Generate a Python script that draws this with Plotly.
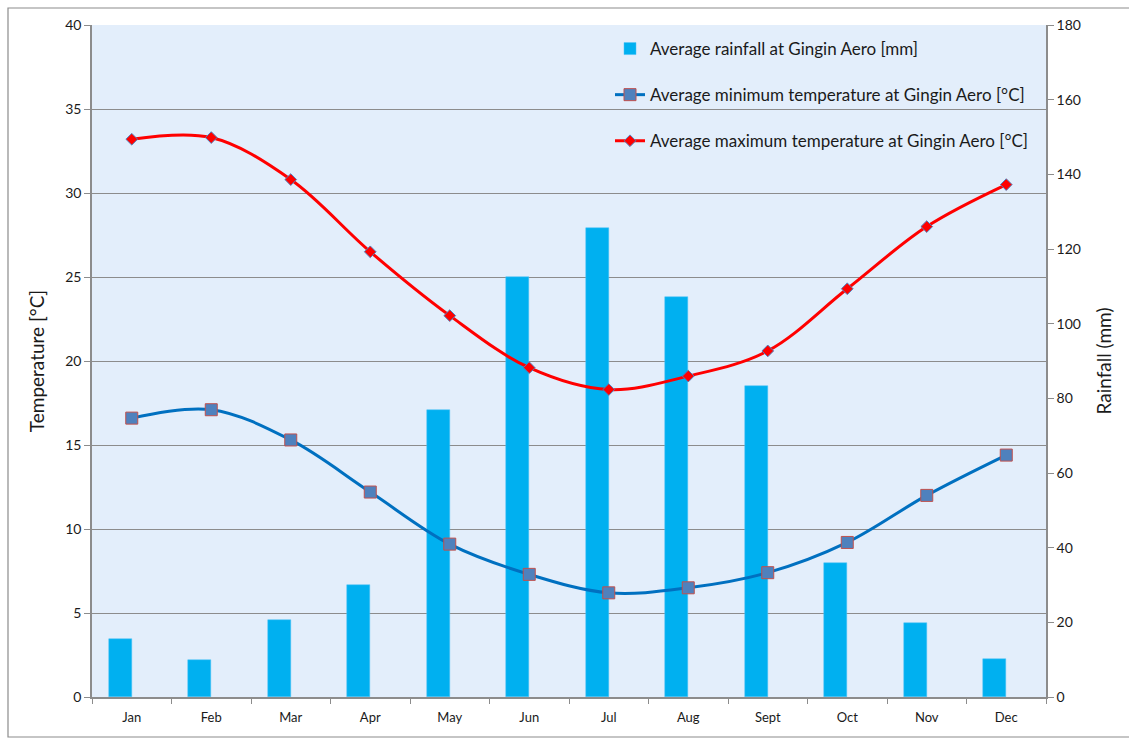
import plotly.graph_objects as go

months = ["Jan", "Feb", "Mar", "Apr", "May", "Jun", "Jul", "Aug", "Sept", "Oct", "Nov", "Dec"]
rainfall_mm = [15.5, 9.9, 20.6, 30.0, 76.9, 112.5, 125.6, 107.2, 83.3, 35.9, 19.8, 10.2]
min_temp_c = [16.6, 17.1, 15.3, 12.2, 9.1, 7.3, 6.2, 6.5, 7.4, 9.2, 12.0, 14.4]
max_temp_c = [33.2, 33.3, 30.8, 26.5, 22.7, 19.6, 18.3, 19.1, 20.6, 24.3, 28.0, 30.5]

FONT = "Lato"
GRID = "#8c8c8c"
AXIS = "#8c8c8c"

fig = go.Figure()

# rainfall bars sit on the primary (right-hand) axis so the temperature
# lines on the overlaid axis are drawn on top of them
fig.add_trace(go.Bar(
    x=months, y=rainfall_mm, yaxis="y",
    name="Average rainfall at Gingin Aero [mm]",
    marker=dict(color="#00b0f0", line=dict(color="#4fc3f7", width=0.5)),
    width=0.29, offset=-0.29,
    legendgroup="g1",
))

fig.add_trace(go.Scatter(
    x=months, y=min_temp_c, mode="lines+markers", yaxis="y2",
    name="Average minimum temperature at Gingin Aero [°C]",
    line=dict(color="#0070c0", width=3, shape="spline", smoothing=1.0),
    marker=dict(symbol="square", size=12, color="#4f81bd",
                line=dict(color="#c0504d", width=1)),
    legendgroup="g2",
))

fig.add_trace(go.Scatter(
    x=months, y=max_temp_c, mode="lines+markers", yaxis="y2",
    name="Average maximum temperature at Gingin Aero [°C]",
    line=dict(color="#ff0000", width=3, shape="spline", smoothing=1.0),
    marker=dict(symbol="diamond", size=9, color="#ff0000",
                line=dict(color="#4f81bd", width=1)),
    legendgroup="g3",
))

# plot-area geometry in pixels, used to place the legend and outer frame
L, R, T, B = 92, 1046, 25, 697
W, H = R - L, B - T

fig.update_layout(
    width=1129, height=740,
    margin=dict(l=L, r=1129 - R, t=T, b=740 - B, pad=0),
    paper_bgcolor="white",
    plot_bgcolor="#e3eefb",
    font=dict(family=FONT, size=14, color="#1a1a1a"),
    bargap=0,
    showlegend=True,
    legend=dict(
        x=(610 - L) / W, y=(697 - 31) / H, xanchor="left", yanchor="top",
        bgcolor="rgba(0,0,0,0)", font=dict(family=FONT, size=17, color="#1a1a1a"),
        tracegroupgap=21, traceorder="grouped", itemwidth=30,
    ),
    xaxis=dict(
        type="category", tickson="boundaries", ticks="outside", ticklen=5,
        tickcolor=AXIS, showline=True, linecolor=AXIS, linewidth=1.5,
        showgrid=False, tickfont=dict(size=13), range=[-0.5, 11.5],
        ticklabelstandoff=8,
    ),
    yaxis=dict(
        range=[0, 180], dtick=20, side="right",
        ticks="outside", ticklen=6, tickcolor=AXIS,
        showline=True, linecolor=AXIS, linewidth=1.5,
        showgrid=False, zeroline=False,
        title=dict(text="Rainfall (mm)", font=dict(size=19), standoff=18),
        tickfont=dict(size=14),
    ),
    yaxis2=dict(
        range=[0, 40], dtick=5, side="left", overlaying="y",
        ticks="outside", ticklen=6, tickcolor=AXIS,
        showline=True, linecolor=AXIS, linewidth=1.5,
        showgrid=True, gridcolor=GRID, gridwidth=1.2, zeroline=False,
        title=dict(text="Temperature [°C]", font=dict(size=19), standoff=16),
        tickfont=dict(size=14),
    ),
)

# outer chart frame
fig.add_shape(
    type="rect", xref="paper", yref="paper", layer="below",
    x0=(8 - L) / W, x1=(1140 - L) / W, y0=(697 - 737) / H, y1=(697 - 8) / H,
    line=dict(color="#8c8c8c", width=1.2), fillcolor="rgba(0,0,0,0)",
)

fig.write_html("out.html")
